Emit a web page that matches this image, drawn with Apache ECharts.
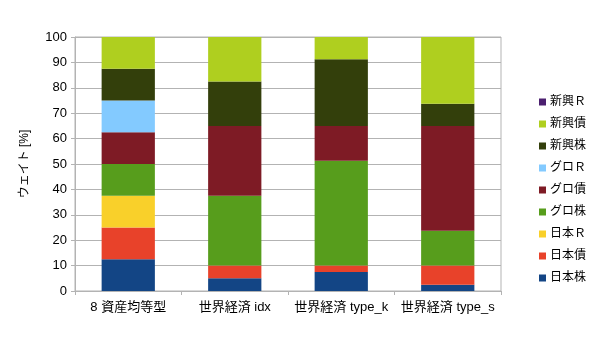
<!DOCTYPE html>
<html><head><meta charset="utf-8">
<script src="https://cdn.jsdelivr.net/npm/echarts@6/dist/echarts.min.js"></script>
<style>html,body{margin:0;padding:0;background:#fff}#c{width:600px;height:337px}</style>
</head><body><div id="c"></div>
<script>
const categories = ['8 資産均等型', '世界経済 idx', '世界経済 type_k', '世界経済 type_s'];
const seriesNames = ['日本株', '日本債', '日本Ｒ', 'グロ株', 'グロ債', 'グロＲ', '新興株', '新興債', '新興Ｒ'];
const jpStock  = [12.5, 5, 7.5, 2.5];
const jpBond   = [12.5, 5, 2.5, 7.5];
const jpReit   = [12.5, 0, 0, 0];
const glStock  = [12.5, 27.5, 41.25, 13.75];
const glBond   = [12.5, 27.5, 13.75, 41.25];
const glReit   = [12.5, 0, 0, 0];
const emStock  = [12.5, 17.5, 26.25, 8.75];
const emBond   = [12.5, 17.5, 8.75, 26.25];
const emReit   = [0, 0, 0, 0];
const yTicks = [0, 10, 20, 30, 40, 50, 60, 70, 80, 90, 100];
const colors = ['#134585', '#e8422a', '#f9d02a', '#579d1c', '#7e1b25', '#83caff', '#333f0b', '#afcf1f', '#4b1f6f'];
const values = [jpStock, jpBond, jpReit, glStock, glBond, glReit, emStock, emBond, emReit];

const font = '"Liberation Sans", "Noto Sans CJK JP", sans-serif';
const chart = echarts.init(document.getElementById('c'), null, {renderer: 'canvas'});
chart.setOption({
  animation: false,
  textStyle: {fontFamily: font},
  grid: {left: 75, right: 99, top: 37, bottom: 46, show: true, borderColor: '#b3b3b3', borderWidth: 1},
  legend: {
    orient: 'vertical', left: 534, top: 91, itemWidth: 7, itemHeight: 7, itemGap: 10,
    icon: 'rect',
    data: seriesNames.slice().reverse(),
    textStyle: {fontSize: 12, color: '#000', fontFamily: font, padding: [0, 0, 0, -1]}
  },
  xAxis: {
    type: 'category', data: categories,
    axisLine: {lineStyle: {color: '#b3b3b3'}},
    axisTick: {show: true, length: 4, lineStyle: {color: '#b3b3b3'}},
    axisLabel: {color: '#000', fontSize: 13, margin: 10, interval: 0, fontFamily: font}
  },
  yAxis: {
    type: 'value', min: yTicks[0], max: yTicks[yTicks.length - 1], interval: 10,
    name: 'ウェイト [%]', nameLocation: 'middle', nameGap: 44, nameRotate: 90,
    nameTextStyle: {color: '#000', fontSize: 12, fontFamily: font},
    axisLine: {show: true, lineStyle: {color: '#b3b3b3'}},
    axisTick: {show: true, length: 4, lineStyle: {color: '#b3b3b3'}},
    axisLabel: {color: '#000', fontSize: 13, margin: 8, fontFamily: font},
    splitLine: {lineStyle: {color: '#b3b3b3'}}
  },
  series: seriesNames.map((n, i) => ({
    name: n, type: 'bar', stack: 'all', barWidth: '50%',
    data: values[i], itemStyle: {color: colors[i]}
  }))
});
</script></body></html>
